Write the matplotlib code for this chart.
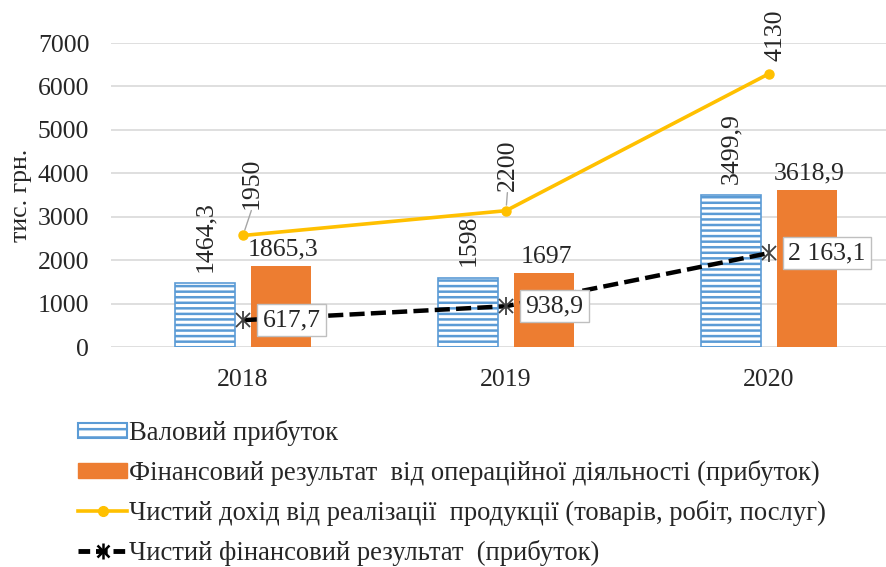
import matplotlib
matplotlib.use("Agg")
import matplotlib.pyplot as plt
import numpy as np
from matplotlib.lines import Line2D
from matplotlib.patches import Patch
from matplotlib.legend_handler import HandlerTuple

plt.rcParams['font.family'] = ['Liberation Serif', 'DejaVu Serif']
plt.rcParams['hatch.linewidth'] = 1.8

years = ['2018', '2019', '2020']
gross_profit = [1464.3, 1598, 3499.9]
operating_result = [1865.3, 1697, 3618.9]
net_revenue = [1950, 2200, 4130]
net_result = [617.7, 938.9, 2163.1]

labels_legend = [
    'Валовий прибуток',
    'Фінансовий результат  від операційної діяльності (прибуток)',
    'Чистий дохід від реалізації  продукції (товарів, робіт, послуг)',
    'Чистий фінансовий результат  (прибуток)',
]

BLUE = '#5B9BD5'
ORANGE = '#ED7D31'
YELLOW = '#FFC000'
TXT = '#262626'
FS = 18.5

fig = plt.figure(figsize=(8.87, 5.67), dpi=100)
ax = fig.add_axes([111.5/887, 1-347/567, 789/887, 304/567])

x = np.arange(len(years))
bw = 0.228
off = 0.143

# stacked line chart: revenue plotted on top of net result
stacked_rev = np.array(net_revenue) + np.array(net_result)

ax.bar(x - off, gross_profit, bw, facecolor='white', edgecolor=BLUE,
       hatch='---', linewidth=1.2, zorder=2)
ax.bar(x + off, operating_result, bw, color=ORANGE, zorder=2)
ax.plot(x, stacked_rev, color=YELLOW, lw=2.6, marker='o', ms=6.5, zorder=4)
ax.plot(x, net_result, color='black', lw=3.2, ls=(0, (3.4, 1.4)), zorder=4)
ax.plot(x, net_result, ls='none', marker='x', ms=10, mew=1.3, color='#404040', zorder=5)
ax.plot(x, net_result, ls='none', marker='|', ms=13, mew=1.3, color='#404040', zorder=5)

ax.set_xlim(-0.5, 2.5)
ax.set_ylim(0, 7000)
ax.set_yticks(np.arange(0, 7001, 1000))
ax.set_xticks(x)
ax.set_xticklabels(years)
ax.grid(axis='y', color='#D9D9D9', lw=1.2)
ax.set_axisbelow(True)
for s in ax.spines.values():
    s.set_visible(False)
ax.tick_params(length=0, labelsize=FS, colors=TXT)
ax.tick_params(axis='y', pad=16)
ax.tick_params(axis='x', pad=16)
ax.set_ylabel('тис. грн.', fontsize=FS, color=TXT, labelpad=4)

def fmt(v):
    return f"{v:g}".replace('.', ',')

for xi, v in zip(x, gross_profit):
    ax.annotate(fmt(v), (xi - off, v), xytext=(0, 8), textcoords='offset points',
                rotation=90, ha='center', va='bottom', fontsize=FS, color=TXT)
for xi, v in zip(x, operating_result):
    ax.annotate(fmt(v), (xi + off, v), xytext=(2, 4), textcoords='offset points',
                ha='center', va='bottom', fontsize=FS, color=TXT)

rev_offsets = [(6, 19), (1, 14), (5, 9)]
for xi, v, s, o in zip(x, net_revenue, stacked_rev, rev_offsets):
    ax.annotate(fmt(v), (xi, s), xytext=o, textcoords='offset points',
                rotation=90, ha='center', va='bottom', fontsize=FS, color=TXT)
for xi, s, o in list(zip(x, stacked_rev, rev_offsets))[:2]:
    ax.annotate('', (xi, s), xytext=(o[0], o[1] - 1), textcoords='offset points',
                arrowprops=dict(arrowstyle='-', color='#A6A6A6', lw=1,
                                shrinkA=0, shrinkB=4))

for xi, v in zip(x, net_result):
    t = f"{v:,.1f}".replace(',', ' ').replace('.', ',')
    ax.annotate(t, (xi, v), xytext=(14, 0), textcoords='offset points',
                ha='left', va='center', fontsize=FS, color=TXT, zorder=6,
                bbox=dict(boxstyle='square,pad=0.2', fc='white', ec='#BFBFBF', lw=1))

h_net = (Line2D([], [], color='black', lw=3.5, ls=(0, (2.4, 1.2))),
         Line2D([], [], ls='none', marker='x', ms=9, mew=1.8, color='black'),
         Line2D([], [], ls='none', marker='|', ms=12, mew=1.8, color='black'))
handles = [
    Patch(facecolor='white', edgecolor=BLUE, hatch='--', linewidth=1.5),
    Patch(facecolor=ORANGE, edgecolor=ORANGE),
    Line2D([], [], color=YELLOW, lw=2.6, marker='o', ms=7),
    h_net,
]
fig.legend(handles, labels_legend, loc='upper left', bbox_to_anchor=(78/887, 1-420/567),
           frameon=False, fontsize=19.2, handlelength=1.85, handleheight=0.5,
           handletextpad=0.08, labelspacing=0.52, borderaxespad=0, borderpad=0,
           labelcolor=TXT, handler_map={tuple: HandlerTuple(ndivide=1)})

fig.savefig('out.png', dpi=100)
